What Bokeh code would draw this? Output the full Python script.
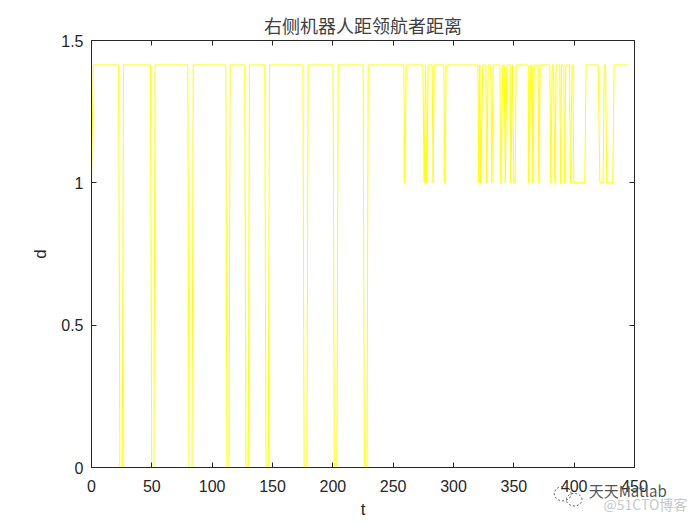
import math
from bokeh.plotting import figure
from bokeh.models import LinearAxis, Range1d, FixedTicker
from bokeh.core.properties import value
from bokeh.embed import file_html
from bokeh.resources import INLINE

H = 1.414
title_text = "右侧机器人距领航者距离"
x_label = "t"
y_label = "d"
x_ticks = [0, 50, 100, 150, 200, 250, 300, 350, 400, 450]
y_ticks = [0, 0.5, 1, 1.5]
watermark_main = "天天Matlab"
watermark_sub = "@51CTO博客"

t = [0, 1.5, 22.5, 23.5, 25.5, 26.5, 48.9, 49.9, 51.7, 52.7, 79.8, 80.8, 83.3, 84.3,
     111.3, 112.3, 113.9, 114.9, 127, 128, 129.9, 130.9, 143.6, 144.6, 146.5, 147.5,
     175.2, 176.2, 178.5, 179.5, 200.2, 201.2, 203.4, 204.4, 225.1, 226.1, 228.3, 229.3,
     258.8, 259.7, 260.8, 274.6, 275.7, 276.8, 277.9, 279.0, 282.3, 283.1, 284.0,
     292.0, 292.8, 293.9, 320.2, 321.0, 321.8, 322.6, 324.3, 326.8, 327.6, 328.7,
     330.9, 331.8, 332.9, 338.4, 339.2, 340.9, 342.0, 342.9, 344.2, 347.0, 347.5,
     348.9, 350.0, 351.1, 351.9, 361.9, 362.4, 364.1, 365.2, 365.7, 366.8, 370.2,
     370.7, 371.8, 379.8, 380.7, 381.8, 382.9, 384.0, 385.1, 388.1, 388.7, 389.5,
     391.4, 392.0, 393.1, 396.1, 396.9, 398.3, 398.9, 399.7, 408.8, 409.9, 419.9,
     421.3, 424.0, 424.9, 426.0, 427.0, 432.0, 433.1, 443.9]
d = [1, H, H, 0, 0, H, H, 0, 0, H, H, 0, 0, H,
     H, 0, 0, H, H, 0, 0, H, H, 0, 0, H,
     H, 0, 0, H, H, 0, 0, H, H, 0, 0, H,
     H, 1, H, H, 1, H, 1, H, H, 1, H,
     H, 1, H, H, 1, H, 1, H, H, 1, H,
     H, 1, H, H, 1, H, H, 1, H, H, 1,
     H, 1, 1, H, H, 1, H, H, 1, H, H,
     1, H, H, 1, H, H, 1, H, H, 1, H,
     H, 1, H, H, 1, H, H, 1, 1, H, H,
     1, 1, H, H, 1, 1, H, H]

FONT = "Liberation Sans"
DARK = "#262626"

p = figure(width=700, height=525, frame_width=543, frame_height=427,
           x_range=Range1d(0, 450), y_range=Range1d(0, 1.5),
           output_backend="svg", toolbar_location=None,
           x_axis_location="below", y_axis_location="left",
           min_border_left=91, min_border_right=66, min_border_top=40, min_border_bottom=58)
p.grid.visible = False
p.outline_line_color = None
p.background_fill_color = "white"
p.border_fill_color = "white"

p.line(t, d, line_color="#ffff00", line_width=1)

p.title.text = title_text
p.title.align = "center"
p.title.text_font = "Noto Sans CJK SC"
p.title.text_font_size = "18px"
p.title.text_font_style = "normal"
p.title.text_color = "#404040"
p.title.offset = 0
p.title.standoff = 5

def style(ax, labels=True):
    ax.axis_line_color = DARK
    ax.axis_line_width = 1
    ax.major_tick_line_color = DARK
    ax.major_tick_in = 5
    ax.major_tick_out = 0
    ax.minor_tick_line_color = None
    if labels:
        ax.major_label_text_font = FONT
        ax.major_label_text_font_size = "16px"
        ax.major_label_text_color = DARK
        ax.axis_label_text_font = FONT
        ax.axis_label_text_font_size = "17px"
        ax.axis_label_text_font_style = "normal"
        ax.axis_label_text_color = DARK
    else:
        ax.major_label_text_font_size = "0px"
        ax.major_label_text_color = None

xa = p.xaxis[0]
xa.ticker = FixedTicker(ticks=x_ticks)
xa.axis_label = x_label
xa.axis_label_standoff = 5
xa.major_label_standoff = 12
style(xa)

ya = p.yaxis[0]
ya.ticker = FixedTicker(ticks=y_ticks)
ya.major_label_overrides = {0: "0", 0.5: "0.5", 1: "1", 1.5: "1.5"}
ya.axis_label = y_label
ya.axis_label_standoff = 8
ya.major_label_standoff = 8
style(ya)

top = LinearAxis(ticker=FixedTicker(ticks=x_ticks))
style(top, False)
p.add_layout(top, "above")
right = LinearAxis(ticker=FixedTicker(ticks=y_ticks))
style(right, False)
p.add_layout(right, "right")

# watermark: two dashed chat bubbles, then its two texts, over the tick labels
def bubble(cx, cy, rx, ry):
    angles = [i * math.pi / 18 for i in range(37)]
    return [cx + rx * math.cos(a) for a in angles], [cy + ry * math.sin(a) for a in angles]

for cx, cy, rx, ry in [(390.5, -0.092, 7.0, 0.025), (400.0, -0.113, 6.5, 0.022)]:
    bx, by = bubble(cx, cy, rx, ry)
    p.line(bx, by, level="overlay", line_color="#555555", line_dash="2 2", line_width=1)

p.text([412], [-0.119], text=[watermark_main], level="overlay", text_color="#555555",
       text_font=value("Noto Sans CJK SC"), text_font_size="15px")
p.text([424.3], [-0.165], text=[watermark_sub], level="overlay", text_color="#c8c8c8",
       text_font=value("Noto Sans CJK SC"), text_font_size="14px")

open("out.html", "w").write(file_html(p, INLINE))
